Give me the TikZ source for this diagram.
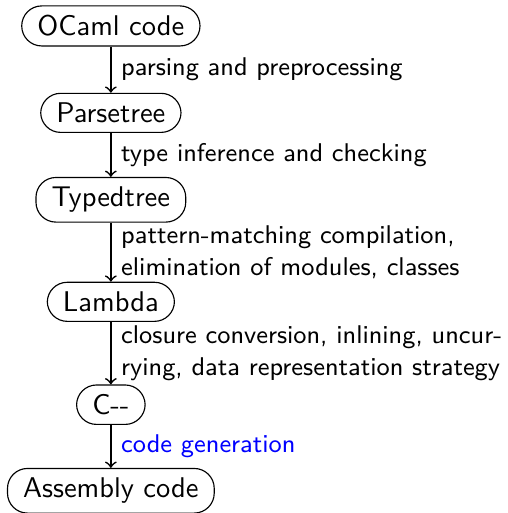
\documentclass[tikz,border=0pt]{standalone}
\usepackage{tikz}
\usetikzlibrary{shapes,arrows,positioning}
\tikzstyle{line} = [draw, semithick, ->]
\tikzstyle{stage} = [draw, rectangle, rounded corners=7pt, text centered, inner xsep=5.5pt]
\tikzstyle{pass} = [right, align=left, font=\sffamily\small]

\begin{document}
\begin{tikzpicture}[node distance=30.5pt, auto, font=\sffamily]
        \useasboundingbox (-38.9pt,9.1pt) rectangle (139.3pt,-170.9pt);
        \node[stage] (ocaml) {OCaml code};
        \node[stage, below of=ocaml] (parsetree) {Parsetree};
        \node[stage, below of=parsetree] (typedtree) {Typedtree};
        \node[stage, below of=typedtree, node distance=35.8pt] (lambda) {Lambda};
        \node[stage, below of=lambda, node distance=36.1pt] (cmm) {C-{}-};
        \node[stage, below of=cmm, node distance=30.2pt] (asm) {Assembly code};
        \path[line] (ocaml) -- node[pass] {parsing and preprocessing} (parsetree);
        \path[line] (parsetree) -- node[pass] {type inference and checking} (typedtree);
        \path[line] (typedtree) -- node[pass] {pattern-matching compilation,\\elimination of modules, classes} (lambda);
        \path[line] (lambda) -- node[pass] {closure conversion, inlining, uncur-\\rying, data representation strategy} (cmm);
        \path[line] (cmm) -- node[pass, text=blue] {code generation} (asm);
    \end{tikzpicture}
\end{document}
